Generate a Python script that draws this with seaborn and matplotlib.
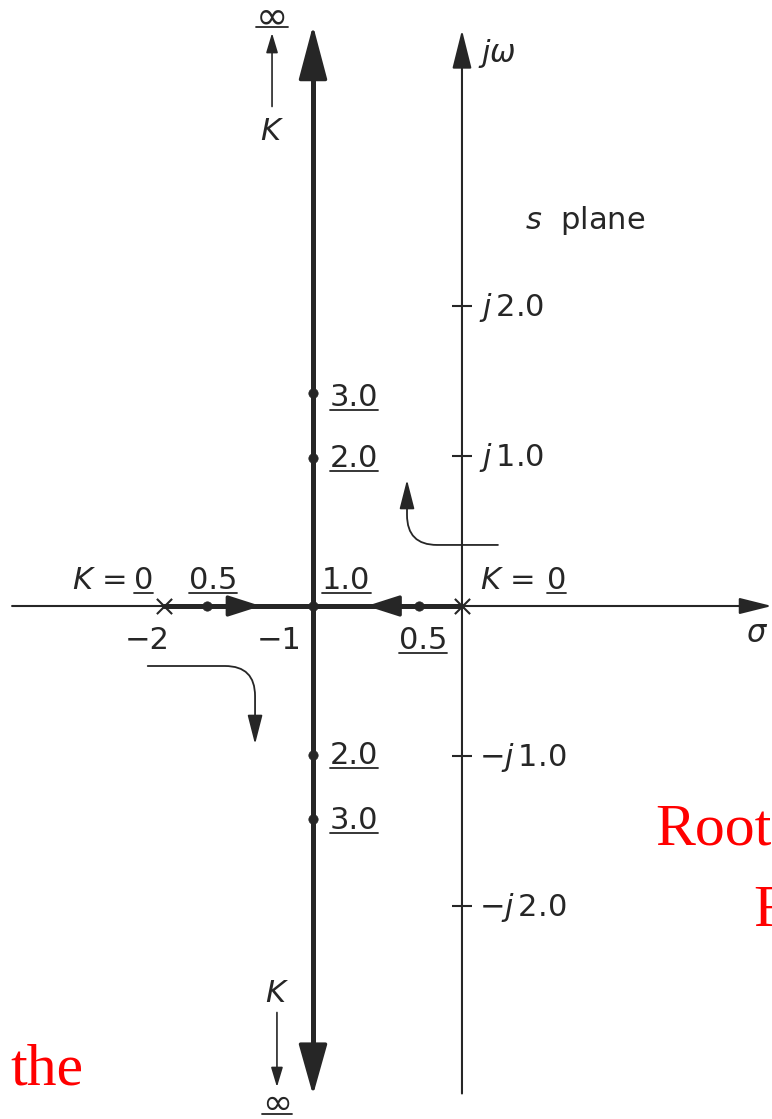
import seaborn as sns
import matplotlib.pyplot as plt
from matplotlib.patches import FancyArrowPatch
from matplotlib.lines import Line2D

# open loop poles (K = 0)
pole_re = [-2.0, 0.0]
pole_im = [0.0, 0.0]

# gain values marked along the locus
gain_re = [-1.71, -0.29, -1.0, -1.0, -1.0, -1.0, -1.0]
gain_im = [0.0, 0.0, 0.0, 0.99, 1.42, -0.99, -1.42]
gain_txt = ["0.5", "0.5", "1.0", "2.0", "3.0", "2.0", "3.0"]

# locus branches
real_branch = [-2.0, 0.0]
vert_re = -1.0
vert_branch = [-3.08, 3.68]

# axis ticks
jw_ticks = [2.0, 1.0, -1.0, -2.0]
jw_txt = [r"$j\,\mathrm{2.0}$", r"$j\,\mathrm{1.0}$", r"$-j\,\mathrm{1.0}$", r"$-j\,\mathrm{2.0}$"]
sig_ticks = [-2.0, -1.0]
sig_txt = ["\u22122", "\u22121"]

# label placement (offset points), kept apart from the data
gain_off = [(4, 12), (3, -31), (24, 12), (12, -7), (12, -9), (12, -7), (12, -7)]
gain_ha = ["center", "center", "center", "left", "left", "left", "left"]
sig_off = [(-12, -31), (-24, -31)]

sns.set_theme(style="white")
plt.rcParams["font.family"] = ["DejaVu Sans"]
plt.rcParams["mathtext.fontset"] = "dejavusans"

ink = "#262626"
FS = 22

fig = plt.figure(figsize=(7.72, 11.19), dpi=100)
ax = fig.add_axes([0, 0, 1, 1])
ax.set_xlim(-3.101, 2.081)
ax.set_ylim(-3.42, 4.04)
ax.axis("off")


def arrow(tail, head, lw, hl, hw):
    ax.annotate("", xy=head, xytext=tail, annotation_clip=False,
                arrowprops=dict(arrowstyle=f"-|>,head_length={hl},head_width={hw}",
                                lw=lw, color=ink, shrinkA=0, shrinkB=0,
                                mutation_scale=20))


# sigma and j-omega axes
arrow((-3.02, 0), (2.08, 0), 1.5, 1.0, 0.25)
arrow((0, -3.25), (0, 3.84), 1.5, 1.2, 0.3)
ax.plot([0] * len(jw_ticks), jw_ticks, ls="none", marker="_", ms=15, mew=1.5, color=ink)

# root locus
sns.lineplot(x=real_branch, y=[0.0, 0.0], color=ink, lw=3.6, ax=ax,
             estimator=None, sort=False)
sns.lineplot(x=[vert_re, vert_re], y=vert_branch, color=ink, lw=3.6, ax=ax,
             estimator=None, sort=False)
arrow((vert_re, 3.4), (vert_re, 3.87), 2.5, 1.7, 0.45)
arrow((vert_re, -2.9), (vert_re, -3.26), 2.5, 1.6, 0.45)
arrow((-1.7, 0), (-1.35, 0), 2.5, 1.0, 0.32)
arrow((-0.3, 0), (-0.64, 0), 2.5, 1.0, 0.32)

sns.scatterplot(x=pole_re, y=pole_im, marker="x", s=120, color=ink,
                linewidth=1.5, ax=ax, zorder=5)
sns.scatterplot(x=gain_re, y=gain_im, s=45, color=ink, edgecolor=ink,
                ax=ax, zorder=5)

# (text, gap in px from bottom of its box to the underline)
under = []
for re_, im_, t, off, ha in zip(gain_re, gain_im, gain_txt, gain_off, gain_ha):
    under.append((ax.annotate(t, xy=(re_, im_), xytext=off, textcoords="offset points",
                              ha=ha, va="baseline", fontsize=FS, color=ink), 2))

for t, lab in zip(jw_ticks, jw_txt):
    ax.annotate(lab, xy=(0, t), xytext=(12, -7), textcoords="offset points",
                ha="left", va="baseline", fontsize=FS, color=ink)
for t, lab, off in zip(sig_ticks, sig_txt, sig_off):
    ax.annotate(lab, xy=(t, 0), xytext=off, textcoords="offset points",
                ha="center", va="baseline", fontsize=FS, color=ink)

# K = 0 at the poles
for p, k_off, z_off in zip(pole_re, [-27, 52], [-15, 68]):
    ax.annotate("$K$ =", xy=(p, 0), xytext=(k_off, 12), textcoords="offset points",
                ha="right", va="baseline", fontsize=FS, color=ink)
    under.append((ax.annotate("0", xy=(p, 0), xytext=(z_off, 12), textcoords="offset points",
                              ha="center", va="baseline", fontsize=FS, color=ink), 2))

ax.text(1.906, -0.24, r"$\sigma$", fontsize=FS, color=ink, ha="left", va="baseline")
ax.text(0.107, 3.627, r"$j\omega$", fontsize=FS, color=ink, ha="left", va="baseline")
ax.text(0.423, 2.513, r"$s$  plane", fontsize=FS, color=ink, ha="left", va="baseline")

# K -> infinity along the asymptotes
ax.text(-1.275, 3.16, "$K$", fontsize=FS, color=ink, ha="center", va="center")
arrow((-1.275, 3.33), (-1.275, 3.82), 1.2, 0.6, 0.18)
under.append((ax.text(-1.275, 3.853, "\u221e", fontsize=28, color=ink,
                      ha="center", va="baseline"), 9))
ax.text(-1.242, -2.58, "$K$", fontsize=FS, color=ink, ha="center", va="center")
arrow((-1.242, -2.71), (-1.242, -3.207), 1.2, 0.6, 0.18)
under.append((ax.text(-1.242, -3.384, "\u221e", fontsize=26, color=ink,
                      ha="center", va="baseline"), 7))

# direction hints
for tail, head, rad in [((0.26, 0.407), (-0.369, 0.86), 30), ((-2.128, -0.4), (-1.389, -0.94), 30)]:
    ax.add_patch(FancyArrowPatch(tail, head, connectionstyle=f"angle,angleA=0,angleB=90,rad={rad}",
                                 arrowstyle="-|>,head_length=0.9,head_width=0.23",
                                 mutation_scale=20, lw=1.3, color=ink))

# red overlay text
red = dict(family=["Liberation Serif", "DejaVu Serif"], color="red", fontsize=43,
           ha="left", va="baseline")
ax.text(1.295, -1.593, "Root", **red)
ax.text(1.953, -2.127, "For", **red)
ax.text(-3.034, -3.193, "the", **red)

# underline the gain numbers
fig.canvas.draw()
rend = fig.canvas.get_renderer()
inv = fig.transFigure.inverted()
for t, gap in under:
    bb = t.get_window_extent(rend)
    (x0, y0), (x1, _) = inv.transform([(bb.x0, bb.y0 + gap), (bb.x1, bb.y0 + gap)])
    fig.add_artist(Line2D([x0, x1], [y0, y0], transform=fig.transFigure, lw=1.3, color=ink))

fig.savefig("out.png", dpi=100)
